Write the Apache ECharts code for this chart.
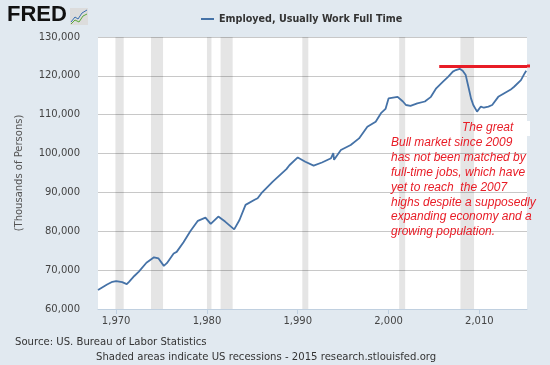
<!DOCTYPE html>
<html>
<head>
<meta charset="utf-8">
<script src="https://cdn.jsdelivr.net/npm/echarts@6/dist/echarts.min.js"></script>
<style>
html,body{margin:0;padding:0;background:#e1e9f0;}
#chart{width:550px;height:365px;}
</style>
</head>
<body>
<div id="chart"></div>
<script>
// Employed, Usually Work Full Time (thousands of persons)
const months = ['1968-01','1968-07','1969-01','1969-08','1970-01','1970-09','1971-03','1971-06','1972-01','1972-07','1973-05','1974-03','1974-09','1975-04','1975-08','1976-05','1976-09','1977-06','1978-03','1979-01','1979-11','1980-06','1981-04','1982-01','1983-01','1983-08','1984-04','1985-04','1985-08','1986-01','1987-04','1988-10','1989-02','1990-01','1990-11','1991-10','1992-09','1993-09','1993-12','1994-01','1994-10','1995-11','1996-10','1997-09','1998-08','1999-03','1999-09','2000-01','2001-01','2001-08','2001-12','2002-06','2003-03','2004-01','2004-09','2005-04','2006-01','2006-08','2007-02','2007-06','2007-11','2008-03','2008-07','2008-11','2009-02','2009-05','2009-10','2010-03','2010-07','2011-01','2011-06','2012-02','2012-10','2013-06','2013-11','2014-08','2015-01','2015-03'];
const fullTime = [64900,65600,66300,67000,67200,66900,66400,67000,68500,69600,71900,73300,73000,71100,71800,74300,74700,77200,80000,82700,83500,81900,83800,82500,80500,82900,86800,88100,88500,89800,92800,96000,97000,99000,97900,96900,97700,98800,100100,98400,100900,102200,103900,106900,108200,110400,111500,114200,114600,113400,112500,112300,112900,113400,114600,116800,118500,119800,121100,121500,121800,121300,120200,116800,114200,112500,110800,112100,111800,112100,112500,114600,115500,116400,117200,118900,120700,121300];
const recessions = [['1969-12','1970-11'],['1973-11','1975-03'],['1980-01','1980-07'],['1981-07','1982-11'],['1990-07','1991-03'],['2001-03','2001-11'],['2007-12','2009-06']];
const xTickYears = [1970,1980,1990,2000,2010];
const yTicks = {min:60000, max:130000, interval:10000};
const highLevel = 122400;
const highStart = '2005-08';
const seriesName = 'Employed, Usually Work Full Time';

function toYear(s){ const p = s.split('-'); return +p[0] + (+p[1]-1)/12; }

const xMin = 1968, xMax = 2015.25;
const data = months.map((m,i)=>[toYear(m), fullTime[i]]);
const areas = recessions.map(r=>[{xAxis: toYear(r[0])},{xAxis: toYear(r[1])}]);

const chart = echarts.init(document.getElementById('chart'));
const font = 'DejaVu Sans';
const red = '#e81c26';
chart.setOption({
  backgroundColor:'#e1e9f0',
  animation:false,
  textStyle:{fontFamily:font},
  legend:{
    data:[seriesName], left:196, top:9, icon:'rect', itemWidth:13, itemHeight:2, itemGap:5,
    textStyle:{fontFamily:font, fontWeight:'bold', fontSize:9.6, color:'#333'}
  },
  grid:{left:98, right:23, top:37, bottom:56, show:true, backgroundColor:'#fff', borderWidth:0},
  xAxis:{
    type:'value', min:xMin, max:xMax,
    axisLine:{lineStyle:{color:'#c0d0e0'}},
    axisTick:{show:true, customValues:xTickYears, length:5, lineStyle:{color:'#c0d0e0'}},
    axisLabel:{customValues:xTickYears, color:'#444', fontSize:10, margin:7, fontFamily:font},
    splitLine:{show:false}
  },
  yAxis:{
    type:'value', min:yTicks.min, max:yTicks.max, interval:yTicks.interval,
    axisLine:{show:false}, axisTick:{show:false},
    axisLabel:{color:'#444', fontSize:10, margin:18, fontFamily:font,
      formatter:v=>v.toLocaleString('en-US')},
    splitLine:{lineStyle:{color:'#c8c8c8'}}
  },
  series:[{
    name:seriesName, type:'line', data:data, showSymbol:false, symbol:'none',
    lineStyle:{color:'#4572a7', width:1.8}, itemStyle:{color:'#4572a7'},
    markArea:{silent:true, itemStyle:{color:'rgba(0,0,0,0.1)'}, data:areas},
    markLine:{silent:true, symbol:'none', label:{show:false},
      lineStyle:{color:red, width:3, type:'solid'},
      data:[[{coord:[toYear(highStart), highLevel]},{coord:[xMax, highLevel]}]]}
  }],
  graphic:[
    {type:'text', left:7, top:4, z:100, style:{text:'FRED', font:'bold 22px "Liberation Sans"', fill:'#111'}},
    {type:'rect', shape:{x:70,y:8,width:18,height:17}, z:100, style:{fill:'#dcdcdc'}},
    {type:'polyline', shape:{points:[[71,22],[75,17],[78,19],[82,13],[87,10]]}, z:101, style:{stroke:'#3a6fb0', lineWidth:1, fill:null}},
    {type:'polyline', shape:{points:[[71,24],[75,20],[79,22],[83,16],[87,14]]}, z:101, style:{stroke:'#5aa83a', lineWidth:1, fill:null}},
    {type:'text', x:19, y:173, rotation:Math.PI/2, z:100, style:{text:'(Thousands of Persons)', font:'10px "DejaVu Sans"', fill:'#555', align:'center', verticalAlign:'middle'}},
    {type:'text', x:15, y:342, z:100, style:{text:'Source: US. Bureau of Labor Statistics', font:'10.1px "DejaVu Sans"', fill:'#333', verticalAlign:'middle'}},
    {type:'text', x:96, y:357, z:100, style:{text:'Shaded areas indicate US recessions - 2015 research.stlouisfed.org', font:'10.1px "DejaVu Sans"', fill:'#333', verticalAlign:'middle'}},
    {type:'rect', shape:{x:527,y:121,width:3,height:15}, z:50, style:{fill:'#fff'}},
    {type:'rect', shape:{x:527,y:64.5,width:3,height:3}, z:50, style:{fill:red}},
    {type:'text', x:462, y:128, z:100, style:{text:'The great', font:'italic 12px "Liberation Sans"', fill:red, verticalAlign:'middle'}},
    {type:'text', x:391, y:135.2, z:100, style:{text:'Bull market since 2009\nhas not been matched by\nfull-time jobs, which have\nyet to reach  the 2007\nhighs despite a supposedly\nexpanding economy and a\ngrowing population.', font:'italic 12px "Liberation Sans"', fill:red, verticalAlign:'top', lineHeight:14.9}}
  ]
});
</script>
</body>
</html>
